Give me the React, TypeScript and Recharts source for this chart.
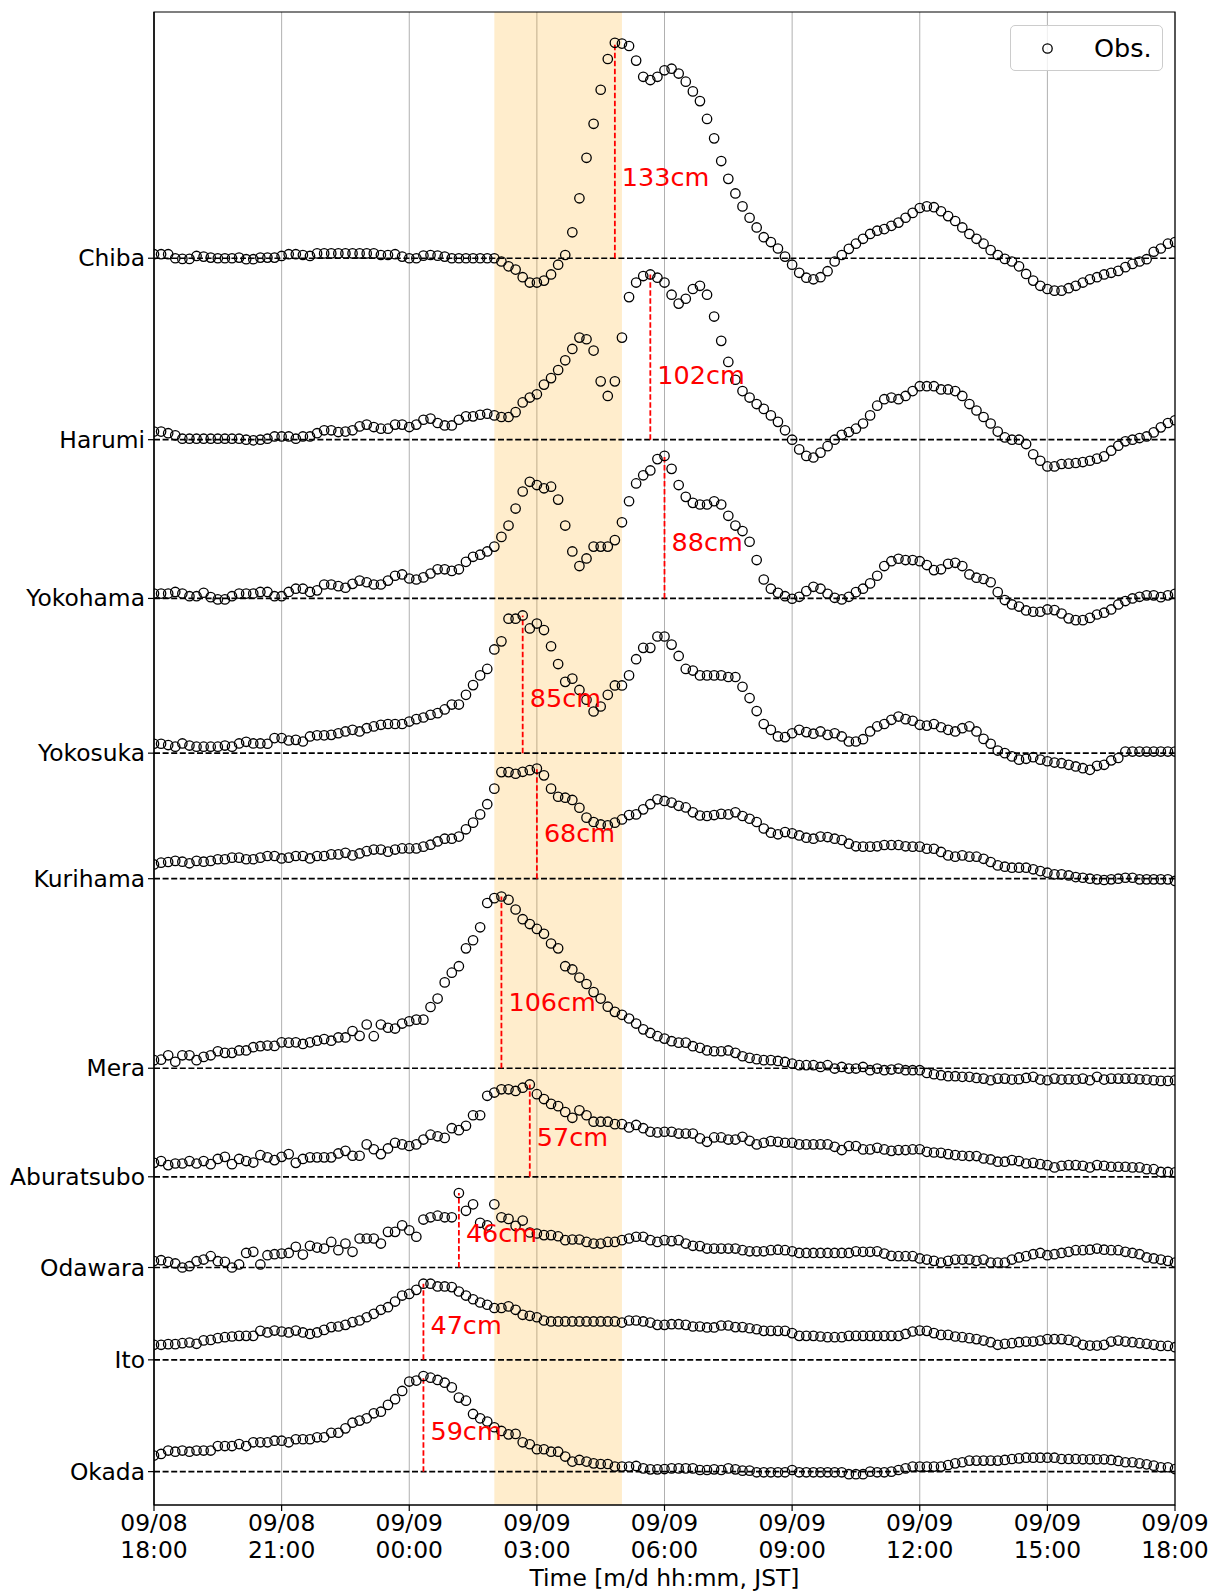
import React from 'react';
import {
  ScatterChart, Scatter, XAxis, YAxis, CartesianGrid, ReferenceLine, ReferenceArea, Label,
} from 'recharts';

// ---- categories / axes ----
const stationNames = ['Chiba', 'Harumi', 'Yokohama', 'Yokosuka', 'Kurihama', 'Mera', 'Aburatsubo', 'Odawara', 'Ito', 'Okada'];
// vertical offset (cm) of each station's zero line
const stationOffsets = [749, 637, 539, 443.5, 366, 249, 182, 126, 69, 0];
const xTickHours = [0, 3, 6, 9, 12, 15, 18, 21, 24];
const xTickDates = ['09/08', '09/08', '09/09', '09/09', '09/09', '09/09', '09/09', '09/09', '09/09'];
const xTickTimes = ['18:00', '21:00', '00:00', '03:00', '06:00', '09:00', '12:00', '15:00', '18:00'];
const shadeStart = '02:00';
const shadeEnd = '05:00';
const stepMinutes = 10;

// ---- observed anomalies (cm), one value every 10 min from 09/08 18:00 ----
const chiba = [
  2.5, 2.5, 2.5, 0, -0.4, -0.4, 1.4, 1, 0.4, 0,
  0, 0, 0.4, -0.6, -0.6, 0.4, 0.4, 0.4, 1.4, 2.5,
  2.5, 2, 1.4, 3, 3, 3, 3, 3, 3, 3,
  3, 3, 2, 2, 2.5, 1, 0, 0, 1.6, 2,
  1.6, 1, 0, 0, 0, 0, 0, 0, 0, -2,
  -5, -7, -11.7, -15, -15, -13.8, -10, -4, 2, 16,
  37, 62, 83, 104, 123, 133, 132.5, 131, 122, 112,
  110, 112, 116, 117, 114, 109, 103, 97, 86, 74,
  60, 49, 40, 32, 25, 19, 13, 10, 6, 1,
  -4, -9, -12, -13, -11.7, -8, -2, 2, 5.8, 9,
  12, 15, 17, 18, 20, 22, 25, 28, 31, 32,
  31.5, 29, 26, 23, 19, 15, 12, 9, 5, 2,
  -0.4, -2, -5, -9.7, -13.8, -17, -19, -20, -20, -18.5,
  -17, -15, -13, -11.7, -10, -9, -7.8, -5.5, -3.5, -2,
  -0.6, 4, 6, 9, 10,
];
const harumi = [
  5, 5, 4, 2.7, 0.6, 0.6, 0.6, 0.6, 0.6, 0.6,
  0.6, 0.6, 0.6, 0, -0.4, 0, 0.6, 2, 2, 2,
  0.6, 2, 2, 4, 5.8, 5.8, 4.7, 5, 5.8, 8.2,
  9.3, 7.8, 6.8, 6.8, 9.3, 9.3, 7.8, 9.3, 12.3, 13,
  10.3, 8.8, 8.8, 12.3, 14.4, 14.4, 15.4, 16, 15, 14,
  14, 17, 23, 26, 28, 34, 38, 43, 49, 56,
  63, 62, 55, 36, 27, 36, 63, 88, 97, 101,
  102, 100, 97, 89.5, 84, 87, 93, 95, 89.5, 76,
  61, 48, 37, 30, 26, 22, 19, 15, 11, 5.8,
  0, -6, -10, -11, -8, -4, 0, 3, 4.7, 6.8,
  10, 15, 21, 25, 26, 25, 27, 30, 33, 33,
  33, 31, 31, 30, 27, 22, 18, 14, 10, 5,
  1.4, 0, 0, -2.7, -9, -13, -16.5, -16.5, -15, -14.8,
  -14.4, -13.8, -13, -11.7, -10.3, -6.8, -3.7, -1, 0, 1,
  2, 4.5, 7.6, 10.3, 12,
];
const yokohama = [
  3, 3, 3, 4, 3, 1.4, 1.4, 3.5, 0.8, -0.6,
  -0.6, 1.4, 3, 3, 3, 4, 4, 1.4, 1.4, 4,
  6, 6, 4, 5, 8.6, 8.6, 7.6, 6.6, 9, 11,
  10, 8.6, 8.6, 11, 14, 14.8, 12.3, 11.7, 13, 15.4,
  18, 18, 17, 18, 22.6, 25.7, 27, 29, 32, 38,
  45, 55.5, 66, 72, 70, 68, 69, 61, 45, 29,
  20, 24.7, 32, 32, 32, 36, 47, 60, 71, 76,
  79, 86, 88, 80, 70, 62.7, 59, 58, 58, 60,
  58, 51, 45, 41.6, 35, 23.7, 11.7, 6, 3.5, 1.4,
  -0.2, 1, 4.5, 7.2, 6, 2.9, 0.4, -0.6, 1, 3.9,
  6, 9.3, 14, 20, 23, 24.5, 23.7, 23.7, 23, 20.6,
  17.5, 18, 21.4, 22, 20, 14.8, 12.8, 12, 10, 3.9,
  -1, -3.7, -5, -7.4, -8.2, -8.2, -6.8, -7.2, -9.3, -12.3,
  -13.4, -13.4, -12, -9.9, -8.8, -6.8, -3.7, -1.6, 0, 1,
  1.9, 1.9, 0.8, 1.9, 2.9,
];
const yokosuka = [
  5.8, 5.8, 5, 4, 6, 4.7, 4, 4, 4, 4,
  4.7, 4, 6, 7, 6, 6, 5.8, 9.3, 9.3, 7.8,
  8.2, 7.2, 10.3, 11, 11, 11.3, 12.3, 13.4, 14.4, 13.4,
  15.4, 16.5, 17.5, 18, 18, 18, 19.5, 21, 22, 23.7,
  24.7, 27, 30, 30, 36, 42, 48, 52, 64, 69,
  83, 83, 85, 77, 80, 76, 66, 55, 44, 46,
  39, 33, 25.7, 28.8, 36, 41.8, 41.8, 48, 58, 65,
  65, 72, 72, 67, 60, 52, 51, 48, 48, 48,
  48, 47, 47, 41, 34, 26, 18, 14.4, 10.3, 9.9,
  12.3, 14.4, 13, 12, 13.4, 11.3, 12.3, 10.3, 7.2, 7.2,
  8.6, 13.4, 16.5, 18, 20.6, 22.6, 21, 20, 17.5, 17,
  18, 16, 14.4, 13.4, 15.4, 16.5, 13.4, 8.8, 5.8, 1.6,
  0, -2, -4, -3.5, -2.5, -4, -5, -5.8, -6.2, -7.2,
  -8.2, -9.3, -10.3, -7.8, -7.2, -4.5, -3, 1, 1, 1,
  1, 1, 1, 1, 1,
];
const kurihama = [
  8.8, 9.9, 10.3, 11, 10.5, 9.5, 11, 10.5, 11, 12,
  12, 13, 13, 12, 12, 13, 14, 14, 12.5, 13,
  14, 14, 12.5, 14, 14, 15, 15, 16, 14.4, 15.6,
  17, 18, 18, 16.7, 18, 18.7, 18.7, 18.7, 19.8, 21,
  23, 24.7, 24.7, 26, 30.5, 34.6, 39.7, 46, 55.6, 65.8,
  65.8, 64.8, 66, 67, 68, 63.8, 55.6, 50.6, 50, 48.6,
  43.8, 37.7, 35, 33.5, 33, 34.6, 36.6, 39.3, 39.7, 42.8,
  46, 49, 48, 47, 45, 44, 41, 39, 38.7, 39.3,
  40, 39.7, 41, 38.7, 37, 35, 31, 28.4, 27.4, 28.8,
  28, 26.7, 25.3, 24.7, 26, 25.7, 24.7, 23.9, 21.6, 20,
  19.8, 19.8, 20, 20.8, 20.8, 20.8, 20, 19.8, 19.8, 18.5,
  18.5, 16.5, 14.4, 13.6, 14.4, 13.6, 13.6, 12.3, 10.3, 8.2,
  7.4, 6.8, 6.8, 6.8, 5.8, 4.7, 3.7, 2.7, 2.7, 2,
  1, 0.6, 0, -0.4, -0.8, -0.4, 0, 0.6, 0.6, -0.4,
  -0.4, -0.4, -0.4, -0.4, -1.4,
];
const mera = [
  5, 5.3, 8, 4, 8, 8, 5, 7, 8, 10.5,
  9.5, 9.5, 11, 11, 13, 13.6, 14, 13.8, 16, 15.8,
  16, 15, 16, 17, 18, 17, 19, 19, 23, 20,
  27, 19.8, 27, 25, 24.5, 27.6, 29, 30, 30, 37.8,
  43, 53, 59, 63, 74, 79, 87, 102, 105, 106,
  104, 98, 92, 89, 86, 83, 77, 74, 63, 61,
  56, 52, 47, 43, 38, 34.8, 33, 30.7, 27.6, 24,
  21.8, 19.8, 18.3, 16.7, 15.8, 15.8, 13.6, 12.6, 11, 10.5,
  10.5, 11, 9.5, 7.4, 6.4, 5.6, 5, 5, 4.5, 3.9,
  2.9, 1.9, 1.9, 1.9, 0.8, 1.9, -0.2, 0.8, -0.2, -0.2,
  0.8, -1.2, -0.2, -1.2, -0.8, -0.2, -1.2, -1.2, -1.2, -2.9,
  -3.7, -4.3, -4.9, -4.9, -5.3, -5.3, -6, -6.4, -7.4, -6.4,
  -6.4, -7, -6.8, -6, -5.3, -7, -7.4, -6.4, -7, -6.8,
  -7, -6.4, -7.4, -5.3, -7, -6.4, -6.4, -6.4, -6.4, -6.8,
  -7, -7.4, -7.8, -7.8, -7.4,
];
const aburatsubo = [
  8.6, 9.7, 7.2, 8.2, 8.2, 9.7, 8.2, 9.7, 7.8, 11,
  12.3, 7.8, 11, 9.7, 8.8, 13.4, 12, 10.3, 12.3, 14,
  8.6, 11, 12, 12, 12, 12, 14.4, 16, 13, 13,
  20, 17, 14, 17.5, 21, 20, 19, 20, 23, 26,
  25, 24, 30, 28.8, 31.5, 38, 38, 50, 52, 54,
  54, 53, 55, 57, 51, 48, 45, 43.6, 40, 36.4,
  41, 38, 34, 34, 34, 32.5, 32.5, 30.5, 32, 30,
  27.8, 27.4, 27.8, 27.8, 26.7, 26.7, 26.7, 23.7, 21.6, 24.3,
  24.3, 23, 23, 24.7, 22.2, 20, 21, 22, 21.6, 21,
  21, 20, 20, 20, 20, 20, 18.5, 16.5, 19, 19,
  16.9, 16.9, 17.9, 16.9, 16, 16.5, 16.5, 16.9, 17, 15.4,
  15, 14.8, 14, 13.4, 13, 12.8, 12.8, 11.3, 10.7, 9.3,
  9.3, 10.3, 9.7, 8.2, 8.6, 7.8, 7.2, 5.8, 6.8, 7.2,
  7.2, 6.8, 5.8, 7.2, 6.8, 6.2, 6.2, 6.2, 5.8, 5.8,
  4.7, 4.7, 3, 3, 2.7,
];
const odawara = [
  4, 4.5, 3.5, 2.5, 0, 0.8, 3.9, 4.9, 7, 3.9,
  3.5, 0, 1.9, 9, 9.7, 1.9, 7.6, 8.2, 8.6, 9,
  12.8, 8, 13.4, 12.3, 11.7, 15.8, 10.7, 14.8, 9.7, 17.9,
  17.9, 17.9, 14.8, 22, 22, 26, 23, 19, 29.6, 31,
  32, 31, 31, 46, 35, 39, 27.6, 26, 39, 31,
  30, 25.7, 29, 21.6, 21, 20, 20, 19.3, 16.9, 17.3,
  17.3, 15.8, 14.8, 14.8, 15.8, 15.8, 16.9, 17.9, 19, 19,
  16.9, 15.8, 16.9, 16.3, 16.9, 14.8, 13.4, 13.2, 11.7, 11.7,
  11.7, 11.7, 11.7, 10.7, 10, 10, 10, 10.7, 11, 10.7,
  10, 9, 9, 9, 9, 9, 9, 9, 9, 10,
  9.7, 9.7, 10, 8.6, 7.2, 7, 7, 7, 5.6, 4.9,
  4.1, 3.1, 4.1, 4.9, 4.9, 4.9, 4.1, 4.9, 3.1, 3.1,
  3.1, 4.9, 6.2, 7, 8.2, 9, 7.6, 8.2, 9, 9.7,
  10.7, 10.7, 11, 11.7, 11, 10.7, 10.7, 9.7, 9, 8.2,
  6.2, 5.6, 4.9, 4.1, 3.1,
];
const ito = [
  9.3, 9.3, 9.7, 9.7, 10.3, 10.7, 9.9, 12, 12.3, 13.4,
  14, 14.4, 14.8, 14.8, 14.8, 17.9, 16.9, 18.1, 17.5, 16.9,
  18.1, 16.9, 16, 16.9, 18.5, 20.2, 20.6, 21.6, 23.3, 24.3,
  26.3, 28.4, 30.9, 32.5, 36, 39.7, 40.7, 43.2, 47, 47,
  45.3, 45.3, 44.9, 42.2, 39.7, 37.4, 35.4, 34, 32, 32,
  33, 30.9, 27.8, 27.2, 26.3, 24.3, 23.7, 23.7, 23.7, 23.7,
  23.7, 23.7, 23.7, 23.7, 23.7, 23.7, 23, 24.3, 24.3, 23.7,
  23, 21.6, 21.6, 22, 22, 21.6, 20.6, 20.6, 20, 20,
  21.2, 21.2, 20.2, 20.2, 19.5, 18.9, 17.9, 17.9, 17.9, 17.9,
  16.5, 14.8, 14.8, 14.8, 14.4, 14, 14, 14, 14.8, 14.8,
  14.8, 14.8, 14.8, 14.8, 14.8, 14.8, 16, 17.5, 18.1, 17.9,
  16.5, 15.4, 15.4, 14.4, 14, 13.4, 12.8, 11.9, 10.9, 9.3,
  9.9, 10.3, 10.9, 11.3, 11.3, 11.9, 12.8, 12.8, 12.8, 12.3,
  11.3, 9.3, 8.8, 8.8, 9.3, 11.3, 11.9, 11.3, 10.9, 10.3,
  9.9, 9.3, 8.6, 8.6, 7.8,
];
const okada = [
  9.9, 10.9, 13, 12.3, 13, 12.3, 13, 13, 13, 15.8,
  15.8, 15.8, 17, 15.8, 18.1, 18.1, 18.1, 19.1, 19.1, 18.1,
  20, 20, 20, 21.2, 21.2, 24, 24, 26.7, 30.2, 31.5,
  32.9, 36, 37, 41.2, 44.7, 49.8, 55.6, 56.2, 59, 58,
  56.6, 54.9, 52, 45.7, 43.8, 35.6, 32.9, 30.9, 27.4, 25.1,
  23, 23.3, 18.1, 16.9, 13.8, 13.8, 12.3, 12.3, 9.3, 6.2,
  7.2, 6.2, 5.1, 4.7, 4.7, 3.1, 3.1, 3.1, 3.5, 2,
  1.4, 1.4, 1.6, 2, 2, 2, 2, 1, 1, 1.4,
  1, 2, 1.4, 0.6, 0.6, -0.4, -0.4, -0.4, -0.4, -0.4,
  1, -0.4, -0.4, -0.4, -0.4, -0.4, -0.4, -0.4, -1.6, -1.6,
  -1.6, 0, -0.4, -0.4, 0, 1, 2, 3.1, 3.1, 3.1,
  3.1, 3.1, 4.1, 5.1, 5.8, 6.8, 6.8, 6.8, 6.8, 6.8,
  7.2, 7.8, 8.2, 8.6, 8.6, 8.6, 8.6, 8.6, 7.8, 7.8,
  7.8, 7.6, 7.6, 7.6, 7.6, 7.2, 6.6, 5.8, 5.8, 5.1,
  4.5, 3.7, 2.7, 2.7, 1.6,
];
const stationSeries = [chiba, harumi, yokohama, yokosuka, kurihama, mera, aburatsubo, odawara, ito, okada];

// ---- maximum heights ----
const peakTimes = ['04:50', '05:40', '06:00', '02:40', '03:00', '02:10', '02:50', '01:10', '00:20', '00:20'];
const peakValues = [133, 102, 88, 85, 68, 106, 57, 46, 47, 59];

// ---- helpers ----
const clockToHours = (s: string) => {
  const [h, m] = s.split(':').map(Number);
  let t = h + m / 60 - 18;
  if (t < 0) t += 24;
  return t;
};

const Y_MIN = -20.6;
const Y_MAX = 901;
const FONT = 'DejaVu Sans, sans-serif';
const MARKER_R = 4.7;
const MARKER_SW = 1.3;

const seriesData = stationSeries.map((vals, s) =>
  vals.map((v, i) => ({ x: (i * stepMinutes) / 60, y: stationOffsets[s] + v }))
);
const labelData = peakValues.map((p, s) => ({
  x: clockToHours(peakTimes[s]),
  y: stationOffsets[s] + p / 3 + 5.7,
  label: `${p}cm`,
}));

const Ring = (p: any) => (
  <circle cx={p.cx} cy={p.cy} r={MARKER_R} fill="none" stroke="#000" strokeWidth={MARKER_SW} />
);

const PeakLabel = (p: any) => {
  const lab = (p.payload && p.payload.label) || p.label;
  return (
    <text x={p.cx + 7} y={p.cy} fill="#ff0000" fontSize={25.5} fontFamily={FONT} dominantBaseline="central">
      {lab}
    </text>
  );
};

const XTick = (props: any) => {
  const { x, y, payload } = props;
  const k = xTickHours.indexOf(payload.value);
  return (
    <g>
      <text x={x} y={y + 9.6} textAnchor="middle" dominantBaseline="central" fontSize={23.4} fontFamily={FONT} fill="#000">
        {xTickDates[k]}
      </text>
      <text x={x} y={y + 37} textAnchor="middle" dominantBaseline="central" fontSize={23.4} fontFamily={FONT} fill="#000">
        {xTickTimes[k]}
      </text>
    </g>
  );
};

const YTick = (props: any) => {
  const { x, y, payload } = props;
  const k = stationOffsets.indexOf(payload.value);
  return (
    <text x={x - 1} y={y} textAnchor="end" dominantBaseline="central" fontSize={23.4} fontFamily={FONT} fill="#000">
      {stationNames[k]}
    </text>
  );
};

const XTitle = (props: any) => {
  const vb = props.viewBox || { x: 154, y: 1505, width: 1021, height: 86 };
  return (
    <text x={vb.x + vb.width / 2} y={vb.y + 73} textAnchor="middle" dominantBaseline="central" fontSize={23.4} fontFamily={FONT} fill="#000">
      Time [m/d hh:mm, JST]
    </text>
  );
};

export default function App() {
  return (
    <div style={{ position: 'absolute', left: 0, top: 0, width: 1213, height: 1591, background: '#fff' }}>
      <ScatterChart width={1213} height={1591} margin={{ top: 12, right: 38, bottom: 0, left: 0 }}>
        <CartesianGrid horizontal={false} vertical stroke="#b0b0b0" strokeWidth={1} />
        <ReferenceArea
          x1={clockToHours(shadeStart)}
          x2={clockToHours(shadeEnd)}
          y1={Y_MIN}
          y2={Y_MAX}
          fill="#ffa500"
          fillOpacity={0.2}
          stroke="none"
        />
        <XAxis
          type="number"
          dataKey="x"
          domain={[0, 24]}
          ticks={xTickHours}
          interval={0}
          height={86}
          tickSize={6}
          tickMargin={2}
          tick={<XTick />}
          axisLine={{ stroke: '#000', strokeWidth: 1.2 }}
          tickLine={{ stroke: '#000', strokeWidth: 1.2 }}
          allowDataOverflow
        >
          <Label content={<XTitle />} />
        </XAxis>
        <YAxis
          type="number"
          dataKey="y"
          domain={[Y_MIN, Y_MAX]}
          ticks={stationOffsets}
          interval={0}
          width={154}
          tickSize={6}
          tickMargin={2}
          tick={<YTick />}
          axisLine={{ stroke: '#000', strokeWidth: 1.2 }}
          tickLine={{ stroke: '#000', strokeWidth: 1.2 }}
          allowDataOverflow
        />
        {stationOffsets.map((off, s) => (
          <ReferenceLine key={'b' + s} y={off} stroke="#000" strokeWidth={1.7} strokeDasharray="6 2.6" />
        ))}
        {peakValues.map((p, s) => (
          <ReferenceLine
            key={'p' + s}
            segment={[
              { x: clockToHours(peakTimes[s]), y: stationOffsets[s] },
              { x: clockToHours(peakTimes[s]), y: stationOffsets[s] + p },
            ]}
            stroke="#ff0000"
            strokeWidth={1.8}
            strokeDasharray="5.5 2.5"
          />
        ))}
        {seriesData.map((d, s) => (
          <Scatter key={stationNames[s]} name={stationNames[s]} data={d} shape={Ring} isAnimationActive={false} />
        ))}
        <Scatter name="labels" data={labelData} shape={PeakLabel} isAnimationActive={false} />
        <ReferenceArea x1={0} x2={24} y1={Y_MIN} y2={Y_MAX} fill="none" stroke="#000" strokeWidth={1.2} />
      </ScatterChart>
      <div
        style={{
          position: 'absolute', left: 1010, top: 25, width: 153, height: 46, boxSizing: 'border-box',
          border: '1px solid #cccccc', borderRadius: 5, background: 'rgba(255,255,255,0.8)',
        }}
      >
        <svg width={60} height={44} style={{ position: 'absolute', left: 0, top: 0 }}>
          <circle cx={36.5} cy={22.5} r={MARKER_R} fill="none" stroke="#000" strokeWidth={MARKER_SW} />
        </svg>
        <span
          style={{
            position: 'absolute', left: 83, top: 0, lineHeight: '44px', fontSize: 25.5,
            fontFamily: FONT, color: '#000',
          }}
        >
          Obs.
        </span>
      </div>
    </div>
  );
}
